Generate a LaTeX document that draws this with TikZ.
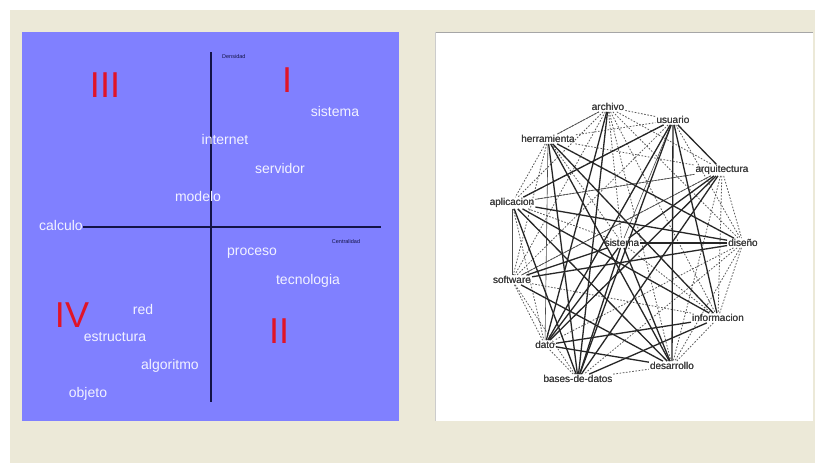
\documentclass[tikz,border=0pt]{standalone}
\usepackage{fontspec}
\setmainfont{Liberation Sans}
\begin{document}
\begin{tikzpicture}[x=1pt,y=-1pt,
  word/.style={text=wordcol,font=\fontsize{14}{15}\selectfont,inner sep=0pt},
  quad/.style={text=quadred,font=\fontsize{36}{36}\selectfont,inner sep=0pt},
  axlab/.style={text=axcol,font=\fontsize{5.5}{6}\selectfont,inner sep=0pt},
  gnode/.style={text=gtext,font=\fontsize{10}{11}\selectfont,inner sep=1pt,fill=white,fill opacity=0.6,text opacity=1},
  thick edge/.style={draw=black!85,line width=1.3pt},
  thin edge/.style={draw=black!70,line width=0.6pt},
  dot edge/.style={draw=black!65,line width=0.8pt,dash pattern=on 1.6pt off 1.6pt},
  axis/.style={draw=axcol,line width=1.2pt}]
\definecolor{beige}{RGB}{236,233,216}
\definecolor{panelblue}{RGB}{128,128,255}
\definecolor{wordcol}{RGB}{242,242,255}
\definecolor{quadred}{RGB}{225,20,40}
\definecolor{axcol}{RGB}{20,20,70}
\definecolor{gtext}{RGB}{55,55,55}
\useasboundingbox (0,0) rectangle (820,463);
\fill[white] (0,0) rectangle (820,463);
\fill[beige] (10,10) rectangle (815,463);
% left panel
\fill[panelblue] (22,32) rectangle (399,421);
\draw[axis] (211,52) -- (211,402);
\draw[axis] (83,227) -- (381,227);
\node[axlab,anchor=west] (dens) at (222,57) {Densidad};
\node[axlab] (cent) at (346,242) {Centralidad};
\node[quad] (q3) at (105,85) {III};
\node[quad] (q1) at (287,80) {I};
\node[quad] (q4) at (72,315) {IV};
\node[quad] (q2) at (279,331) {II};
\node[word] (w1) at (335,111) {sistema};
\node[word] (w2) at (225,139) {internet};
\node[word] (w3) at (280,168) {servidor};
\node[word] (w4) at (198,196) {modelo};
\node[word] (w5) at (61,225) {calculo};
\node[word] (w6) at (252,253) {proceso};
\node[word] (w7) at (308,281) {tecnologia};
\node[word] (w8) at (143,309) {red};
\node[word] (w9) at (115,337) {estructura};
\node[word] (w10) at (170,366) {algoritmo};
\node[word] (w11) at (88,394) {objeto};
% right panel
\fill[white] (435,32) rectangle (813,421);
\draw[black!35,line width=1pt] (435,32.5) -- (813,32.5);
\draw[black!20,line width=0.6pt] (435,32) -- (435,421);
% graph nodes
\node[gnode] (ar) at (608,107) {archivo};
\node[gnode] (us) at (673,120) {usuario};
\node[gnode] (he) at (548,139) {herramienta};
\node[gnode] (aq) at (722,170) {arquitectura};
\node[gnode] (ap) at (512,203) {aplicacion};
\node[gnode] (si) at (622,243) {sistema};
\node[gnode] (di) at (743,243) {diseño};
\node[gnode] (so) at (512,280) {software};
\node[gnode] (in) at (718,318) {informacion};
\node[gnode] (da) at (545,345) {dato};
\node[gnode] (de) at (672,366) {desarrollo};
\node[gnode] (bd) at (578,379) {bases-de-datos};
% dotted edges
\foreach \a/\b in {ar/us,ar/he,ar/aq,ar/ap,ar/so,ar/di,ar/in,ar/si,ar/de,
  us/so,us/di,he/aq,he/ap,he/so,he/si,aq/ap,aq/so,aq/in,aq/di,aq/de,
  ap/si,ap/da,so/in,so/da,so/bd,si/in,di/in,di/da,di/bd,di/de,in/de,da/bd,
  bd/de,he/us,ap/us}
  \path[dot edge] (\a) -- (\b);
% thin solid edges
\foreach \a/\b in {ap/so,ar/he,he/da,us/si,ap/aq,so/aq}
  \path[thin edge] (\a) -- (\b);
% thick edges
\foreach \a/\b in {us/ap,us/da,us/bd,us/de,us/aq,us/in,he/di,he/de,he/in,he/bd,
  ar/da,ar/bd,ap/di,ap/de,ap/in,ap/bd,so/si,so/de,so/di,da/in,da/de,da/aq,
  aq/bd,aq/si,si/di,si/da,si/bd,in/bd,si/de}
  \path[thick edge] (\a) -- (\b);
% redraw labels on top
\foreach \n/\t in {ar/archivo,us/usuario,he/herramienta,aq/arquitectura,ap/aplicacion,
  si/sistema,di/diseño,so/software,in/informacion,da/dato,de/desarrollo,bd/bases-de-datos}
  \node[gnode,fill opacity=0,text opacity=1] at (\n) {\t};
\end{tikzpicture}
\end{document}
